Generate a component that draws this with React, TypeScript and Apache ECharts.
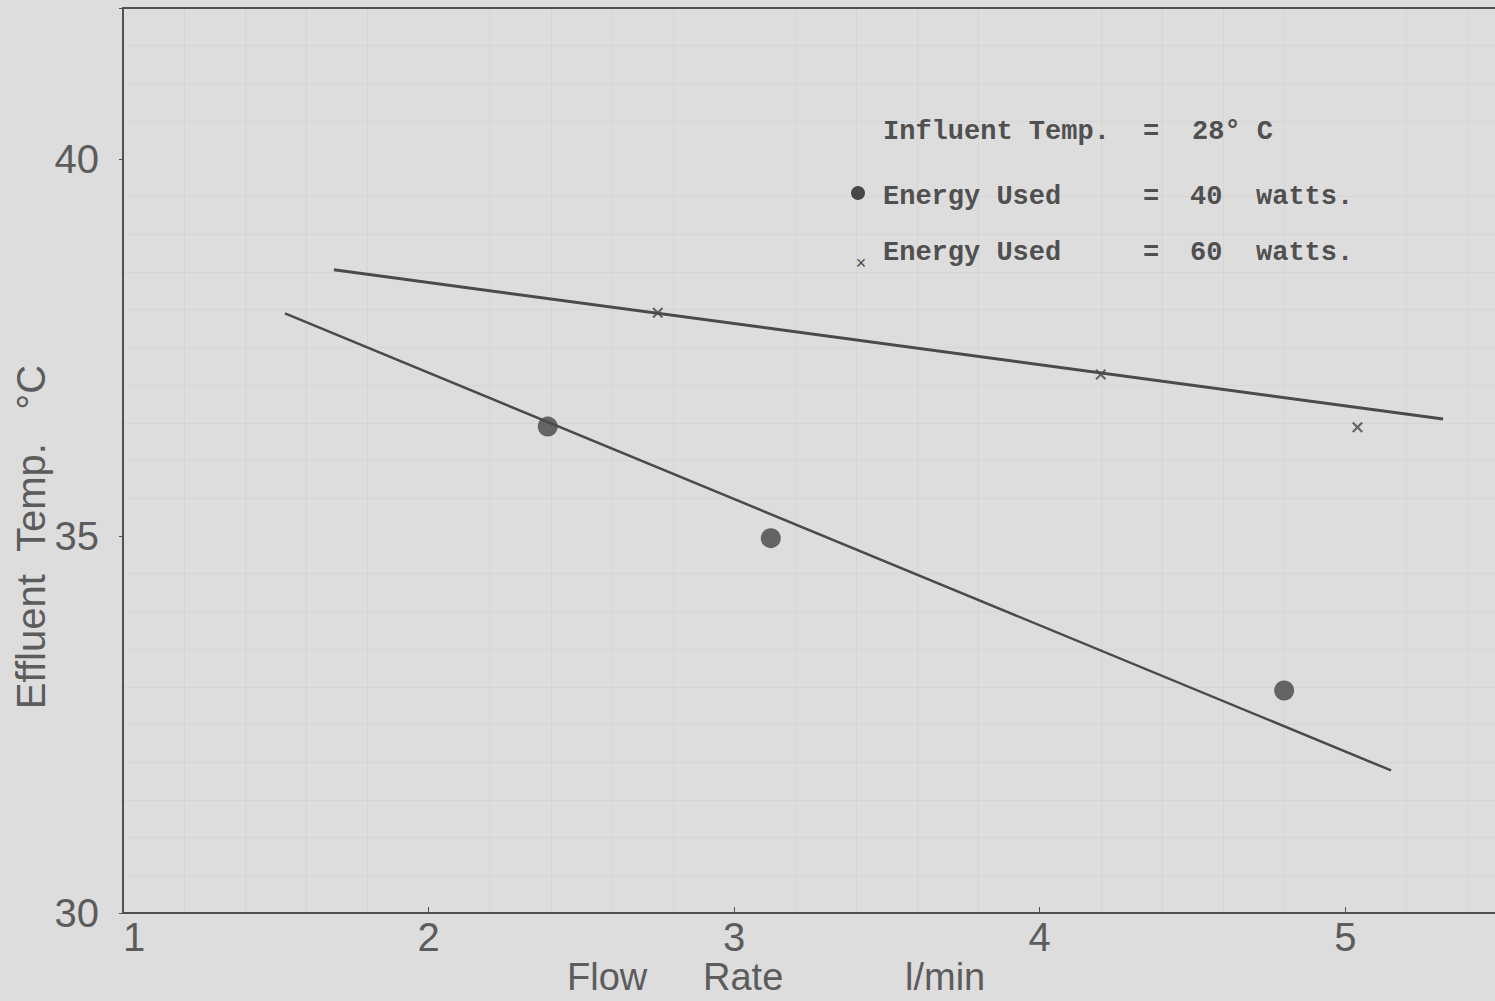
import React, { useEffect, useRef } from "react";
import * as echarts from "echarts";

// Data
const flow40 = [2.39, 3.12, 4.8];
const temp40 = [36.45, 34.97, 32.95];
const flow60 = [2.75, 4.2, 5.04];
const temp60 = [37.96, 37.14, 36.44];
const fit40X = [1.53, 5.15];
const fit40Y = [37.95, 31.89];
const fit60X = [1.69, 5.32];
const fit60Y = [38.53, 36.55];
const xTicks = [1, 2, 3, 4, 5];
const yTicks = [30, 35, 40];

const INK = "#505050";
const LABEL = "#5c5c5c";
const SANS = "'Liberation Sans', Arial, sans-serif";
const MONO = "'Liberation Mono', 'DejaVu Sans Mono', monospace";

const crossPath =
  "path://M0,1.4 L1.4,0 L5,3.6 L8.6,0 L10,1.4 L6.4,5 L10,8.6 L8.6,10 L5,6.4 L1.4,10 L0,8.6 L3.6,5 Z";

export default function App() {
  const ref = useRef<HTMLDivElement>(null);
  useEffect(() => {
    if (!ref.current) return;
    const chart = echarts.init(ref.current, undefined, { renderer: "svg" });
    const pts = (xs: number[], ys: number[]) => xs.map((x, i) => [x, ys[i]]);
    const legendText = (x: number, y: number, text: string) => ({
      type: "text",
      x,
      y,
      style: {
        text,
        font: `bold 27px ${MONO}`,
        fill: INK,
        verticalAlign: "middle",
      },
    });
    const nameText = (x: number, text: string) => ({
      type: "text",
      x,
      y: 977,
      style: {
        text,
        font: `38px ${SANS}`,
        lineHeight: 38,
        fill: LABEL,
        verticalAlign: "middle",
      },
    });
    chart.setOption({
      animation: false,
      backgroundColor: "#dddddd",
      grid: { left: 123, right: 0, top: 8, bottom: 88 },
      xAxis: [
        {
          type: "value",
          min: 1,
          max: 5.49,
          interval: 1,
          axisLine: { show: true, lineStyle: { color: INK, width: 2 } },
          axisTick: { show: true, inside: true, length: 6, lineStyle: { color: INK } },
          axisLabel: {
            fontSize: 40,
            lineHeight: 40,
            fontFamily: SANS,
            color: LABEL,
            margin: 4,
            alignMinLabel: "left",
            showMaxLabel: false,
            formatter: (v: number) => (xTicks.includes(v) ? String(v) : ""),
          },
          splitLine: { show: false },
          minorTick: { show: false, splitNumber: 5 },
          minorSplitLine: { show: true, lineStyle: { color: "rgba(0,0,0,0.035)", width: 1 } },
        },
        {
          type: "value",
          position: "top",
          min: 1,
          max: 5.49,
          axisLine: { show: true, lineStyle: { color: INK, width: 2 } },
          axisTick: { show: false },
          axisLabel: { show: false },
          splitLine: { show: false },
        },
      ],
      yAxis: {
        type: "value",
        min: 30,
        max: 42,
        interval: 5,
        axisLine: { show: true, lineStyle: { color: INK, width: 2 } },
        axisTick: { show: true, length: 4, lineStyle: { color: INK } },
        axisLabel: {
          fontSize: 40,
          fontFamily: SANS,
          color: LABEL,
          margin: 24,
          formatter: (v: number) => (yTicks.includes(v) ? String(v) : ""),
        },
        splitLine: { show: false },
        minorTick: { show: false, splitNumber: 10 },
        minorSplitLine: { show: true, lineStyle: { color: "rgba(0,0,0,0.035)", width: 1 } },
      },
      series: [
        {
          name: "Energy Used = 40 watts (fit)",
          type: "line",
          data: pts(fit40X, fit40Y),
          symbol: "none",
          lineStyle: { color: "#4a4a4a", width: 2.5 },
          silent: true,
        },
        {
          name: "Energy Used = 60 watts (fit)",
          type: "line",
          data: pts(fit60X, fit60Y),
          symbol: "none",
          lineStyle: { color: "#4a4a4a", width: 3 },
          silent: true,
        },
        {
          name: "Energy Used = 40 watts",
          type: "scatter",
          data: pts(flow40, temp40),
          symbol: "circle",
          symbolSize: 20,
          itemStyle: { color: "#464646" },
        },
        {
          name: "Energy Used = 60 watts",
          type: "scatter",
          data: pts(flow60, temp60),
          symbol: crossPath,
          symbolSize: 11,
          itemStyle: { color: "#464646" },
        },
      ],
      graphic: [
        nameText(567, "Flow"),
        nameText(703, "Rate"),
        nameText(905, "l/min"),
        {
          type: "text",
          x: 31,
          y: 537,
          rotation: Math.PI / 2,
          style: {
            text: "Effluent\u00a0\u00a0Temp.\u00a0\u00a0\u00a0°C",
            font: `40px ${SANS}`,
            fill: LABEL,
            align: "center",
            verticalAlign: "middle",
          },
        },
        legendText(883, 132, "Influent Temp."),
        legendText(1143, 132, "="),
        legendText(1192, 132, "28° C"),
        { type: "circle", shape: { cx: 858, cy: 193, r: 7 }, style: { fill: "#484848" } },
        legendText(883, 197, "Energy Used"),
        legendText(1143, 197, "="),
        legendText(1190, 197, "40"),
        legendText(1256, 197, "watts."),
        {
          type: "text",
          x: 861,
          y: 263,
          style: { text: "×", font: `18px ${SANS}`, fill: "#484848", align: "center", verticalAlign: "middle" },
        },
        legendText(883, 253, "Energy Used"),
        legendText(1143, 253, "="),
        legendText(1190, 253, "60"),
        legendText(1256, 253, "watts."),
      ],
    });
    return () => chart.dispose();
  }, []);
  return (
    <div
      ref={ref}
      style={{ position: "fixed", left: 0, top: 0, width: 1495, height: 1001 }}
    />
  );
}
